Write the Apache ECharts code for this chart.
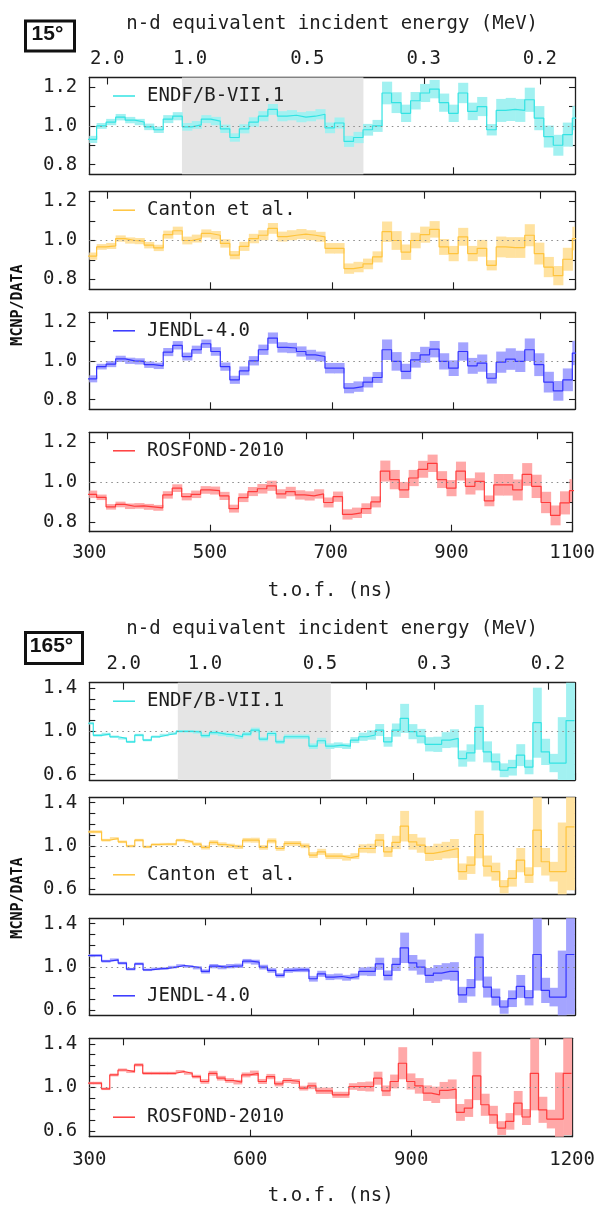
<!DOCTYPE html>
<html><head><meta charset="utf-8">
<script src="https://cdn.jsdelivr.net/npm/echarts@6/dist/echarts.min.js"></script>
<style>html,body{margin:0;padding:0;background:#fff;}#c{width:598px;height:1207px;}</style>
</head><body><div id="c"></div>
<script>
// ---------------- DATA ----------------
const seriesNames = ['ENDF/B-VII.1', 'Canton et al.', 'JENDL-4.0', 'ROSFOND-2010'];

// 15 deg: time-of-flight bins (ns)
const tof15Start = 296.4;
const tof15Bin = 15.67;
const endf15 = [0.93,1.00,1.02,1.045,1.03,1.02,0.995,0.98,1.035,1.05,0.995,1.005,1.035,1.025,0.985,0.94,0.985,1.02,1.05,1.085,1.05,1.055,1.045,1.05,1.06,0.99,1.015,0.92,0.94,0.98,1.00,1.17,1.12,1.065,1.13,1.17,1.19,1.12,1.065,1.17,1.075,1.10,0.98,1.08,1.085,1.08,1.135,1.04,0.945,0.90,0.955,1.04];
const canton15 = [0.92,0.967,0.972,1.01,1.0,0.997,0.976,0.962,1.03,1.05,1.0,1.01,1.036,1.027,0.985,0.925,0.97,1.01,1.027,1.062,1.02,1.027,1.033,1.027,1.019,0.96,0.96,0.856,0.864,0.88,0.916,1.045,1.0,0.94,1.0,1.03,1.057,0.967,0.933,1.019,0.933,0.96,0.873,0.967,0.964,0.964,1.027,0.933,0.864,0.82,0.904,1.01];
const jendl15 = [0.907,0.97,0.983,1.01,1.0,0.997,0.98,0.974,1.045,1.08,1.022,1.057,1.088,1.048,0.97,0.902,0.948,1.0,1.057,1.117,1.069,1.066,1.048,1.031,1.022,0.962,0.962,0.859,0.867,0.89,0.914,1.057,0.997,0.945,1.005,1.031,1.06,0.997,0.962,1.048,0.974,0.988,0.91,0.993,1.009,0.997,1.057,0.98,0.89,0.845,0.902,1.04];
const rosfond15 = [0.938,0.923,0.875,0.887,0.878,0.88,0.875,0.87,0.935,0.969,0.926,0.938,0.96,0.957,0.93,0.866,0.921,0.952,0.966,0.981,0.94,0.952,0.935,0.93,0.94,0.897,0.926,0.837,0.845,0.866,0.9,1.055,1.012,0.96,1.02,1.064,1.094,1.012,0.969,1.055,0.978,1.003,0.905,0.986,0.986,0.96,1.038,0.978,0.897,0.832,0.895,0.957];
// relative half-width of the uncertainty band
const err15 = [0.02,0.015,0.016,0.016,0.016,0.016,0.017,0.017,0.02,0.02,0.02,0.02,0.02,0.021,0.022,0.023,0.024,0.024,0.025,0.026,0.025,0.025,0.025,0.025,0.025,0.028,0.028,0.031,0.031,0.031,0.031,0.05,0.048,0.042,0.04,0.04,0.04,0.042,0.042,0.045,0.042,0.045,0.03,0.055,0.055,0.055,0.055,0.06,0.06,0.06,0.065,0.06];

// 165 deg
const tof165Start = 292.0;
const tof165Bin = 15.37;
const endf165 = [1.075,0.963,0.975,0.95,0.935,0.903,0.966,0.919,0.95,0.966,0.98,1.0,1.0,0.994,0.96,0.988,0.975,0.966,0.95,0.975,1.012,0.928,0.98,0.903,0.95,0.95,0.95,0.863,0.913,0.863,0.872,0.863,0.919,0.95,0.966,1.012,0.903,1.012,1.12,0.997,0.956,0.88,0.88,0.919,0.935,0.748,0.8,1.037,0.81,0.717,0.64,0.664,0.78,0.67,1.08,0.81,0.707,0.707,1.1];
const canton165 = [1.13,1.13,1.052,1.068,1.037,0.997,1.052,0.99,1.012,1.015,1.015,1.052,1.037,1.015,0.985,1.031,1.012,1.0,0.99,1.052,1.052,0.985,1.046,0.975,1.022,1.022,1.0,0.914,0.944,0.904,0.904,0.889,0.904,0.975,0.975,1.052,0.944,1.031,1.182,1.037,1.006,0.929,0.944,0.96,0.975,0.76,0.821,1.105,0.812,0.76,0.62,0.698,0.867,0.728,1.145,0.852,0.76,0.76,1.176];
const jendl165 = [1.105,1.105,1.052,1.065,1.034,0.978,1.028,0.972,0.981,0.985,0.997,1.012,1.003,0.991,0.957,1.006,0.997,1.006,1.009,1.052,1.043,0.997,0.966,0.92,0.966,0.972,0.972,0.889,0.935,0.904,0.91,0.898,0.91,0.957,0.957,1.028,0.92,1.022,1.176,1.037,0.997,0.92,0.941,0.957,0.957,0.74,0.806,1.09,0.812,0.719,0.627,0.704,0.818,0.713,1.114,0.781,0.719,0.719,1.114];
const rosfond165 = [1.04,1.04,0.988,1.115,1.16,1.146,1.207,1.13,1.13,1.13,1.13,1.146,1.13,1.1,1.055,1.13,1.085,1.064,1.049,1.115,1.13,1.055,1.1,1.033,1.064,1.055,0.994,1.015,0.97,0.97,0.933,0.933,1.009,1.009,1.009,1.085,0.97,1.055,1.222,1.055,1.015,0.948,0.933,0.973,0.985,0.772,0.812,1.106,0.842,0.75,0.629,0.69,0.857,0.73,1.13,0.796,0.711,0.711,1.13];
const err165 = [0.012,0.012,0.012,0.012,0.012,0.012,0.012,0.012,0.012,0.012,0.012,0.012,0.012,0.015,0.02,0.02,0.02,0.02,0.02,0.02,0.022,0.022,0.022,0.022,0.022,0.022,0.022,0.03,0.03,0.03,0.03,0.03,0.03,0.04,0.045,0.055,0.05,0.06,0.12,0.07,0.07,0.075,0.08,0.08,0.09,0.1,0.1,0.2,0.12,0.11,0.1,0.11,0.13,0.1,0.3,0.15,0.12,0.6,0.5];

// axes
const tofTicks15 = [300, 500, 700, 900, 1100];
const tofTicks165 = [300, 600, 900, 1200];
const energyTicks = [2.0, 1.0, 0.5, 0.4, 0.3, 0.2];
const energyLabels = [2.0, 1.0, 0.5, 0.3, 0.2];
const K15 = 217200;   // tof^2 * E  (ns^2 MeV) for 15 deg
const K165 = 264500;  // for 165 deg
const yTicks15 = [0.8, 0.9, 1.0, 1.1, 1.2];
const yLabels15 = [0.8, 1.0, 1.2];
const yTicks165 = [0.6, 0.7, 0.8, 0.9, 1.0, 1.1, 1.2, 1.3, 1.4];
const yLabels165 = [0.6, 1.0, 1.4];
const shade15 = [452.6, 751.5];
const shade165 = [464.0, 747.6];

// ---------------- STYLE / LAYOUT ----------------
const FONT = "'DejaVu Sans Mono', monospace";
const INK = '#1e1e1e';
const palette = [
  {line: '#33e3e3', band: '#a2f1f1'},
  {line: '#ffc43d', band: '#ffe2a0'},
  {line: '#3434ff', band: '#a4a4ff'},
  {line: '#ff3c3c', band: '#ffa8a8'}
];
const groups = [
  {data: [endf15, canton15, jendl15, rosfond15], err: err15, start: tof15Start, bin: tof15Bin,
   xMin: 300, xMax: 1100, tofTicks: tofTicks15, K: K15, yMin: 0.75, yMax: 1.25,
   yTicks: yTicks15, yLabels: yLabels15, shade: shade15,
   tops: [77.5, 191.7, 312.3, 432.3], heights: [96.8, 97.6, 97, 99.4],
   legendPos: ['top', 'top', 'top', 'top'], labMargin: 12, nameGap: 50},
  {data: [endf165, canton165, jendl165, rosfond165], err: err165, start: tof165Start, bin: tof165Bin,
   xMin: 300, xMax: 1200, tofTicks: tofTicks165, K: K165, yMin: 0.55, yMax: 1.45,
   yTicks: yTicks165, yLabels: yLabels165, shade: shade165,
   tops: [682.7, 797.3, 918.3, 1038.3], heights: [97.3, 97, 97, 98.4],
   legendPos: ['top', 'bottom', 'bottom', 'bottom'], labMargin: 14, nameGap: 50}
];
const GL = 89.3, GW = 485.7;

const grid = [], xAxis = [], yAxis = [], series = [], legend = [];
let gi = 0;
groups.forEach(function (g, gIdx) {
  const eTickVals = energyTicks.map(function (e) { return Math.sqrt(g.K / e); });
  const eLabVals = energyLabels.map(function (e) { return Math.sqrt(g.K / e); });
  for (let p = 0; p < 4; p++) {
    const top = g.tops[p], h = g.heights[p];
    grid.push({left: GL, width: GW, top: top, height: h, show: false});
    const first = p === 0, last = p === 3;
    const axisLine = {show: true, onZero: false, lineStyle: {color: INK, width: 1.3}};
    const tickStyle = {color: INK, width: 1.1};
    // bottom tof axis
    xAxis.push({
      type: 'value', gridIndex: gi, position: 'bottom', min: g.xMin, max: g.xMax,
      axisLine: axisLine, splitLine: {show: false},
      axisTick: {show: true, inside: true, length: 7, customValues: g.tofTicks, lineStyle: tickStyle},
      axisLabel: {show: last, customValues: g.tofTicks, margin: g.labMargin, fontFamily: FONT, fontSize: 19, color: INK,
                  formatter: function (v) { return String(Math.round(v)); }},
      name: last ? 't.o.f. (ns)' : '', nameLocation: 'middle', nameGap: g.nameGap,
      nameTextStyle: {fontFamily: FONT, fontSize: 19, color: INK}
    });
    // top energy axis
    xAxis.push({
      type: 'value', gridIndex: gi, position: 'top', min: g.xMin, max: g.xMax,
      axisLine: axisLine, splitLine: {show: false},
      axisTick: {show: true, inside: true, length: 7, customValues: eTickVals, lineStyle: tickStyle},
      axisLabel: {show: first, customValues: eLabVals, margin: 9, fontFamily: FONT, fontSize: 19, color: INK,
                  formatter: function (v) { return (g.K / (v * v)).toFixed(1); }},
      name: first ? 'n-d equivalent incident energy (MeV)' : '', nameLocation: 'middle', nameGap: 44,
      nameTextStyle: {fontFamily: FONT, fontSize: 19, color: INK}
    });
    yAxis.push({
      type: 'value', gridIndex: gi, position: 'left', min: g.yMin, max: g.yMax,
      axisLine: axisLine, splitLine: {show: false},
      axisTick: {show: true, inside: true, length: 6, customValues: g.yTicks, lineStyle: tickStyle},
      axisLabel: {show: true, customValues: g.yLabels, margin: 12, fontFamily: FONT, fontSize: 19, color: INK,
                  formatter: function (v) { return v.toFixed(1); }}
    });
    yAxis.push({
      type: 'value', gridIndex: gi, position: 'right', min: g.yMin, max: g.yMax,
      axisLine: axisLine, splitLine: {show: false},
      axisTick: {show: true, inside: true, length: 6, customValues: g.yTicks, lineStyle: tickStyle},
      axisLabel: {show: false}
    });

    const vals = g.data[p];
    const col = palette[p];
    const bandData = [], lineData = [];
    for (let i = 0; i < vals.length; i++) {
      const t0 = g.start + i * g.bin, t1 = t0 + g.bin;
      const d = vals[i] * g.err[i];
      bandData.push([t0, t1, vals[i] - d, vals[i] + d]);
      lineData.push([t0, vals[i]]);
    }
    lineData.push([g.start + vals.length * g.bin, vals[vals.length - 1]]);

    series.push({
      type: 'custom', xAxisIndex: 2 * gi, yAxisIndex: 2 * gi, z: 2, silent: true,
      encode: {x: [0, 1], y: [2, 3]},
      data: bandData,
      renderItem: (function (fill) {
        return function (params, api) {
          const a = api.coord([api.value(0), api.value(3)]);
          const b = api.coord([api.value(1), api.value(2)]);
          const cs = params.coordSys;
          const shape = echarts.graphic.clipRectByRect(
            {x: a[0], y: a[1], width: b[0] - a[0] + 0.6, height: b[1] - a[1]},
            {x: cs.x, y: cs.y, width: cs.width, height: cs.height});
          return shape && {type: 'rect', shape: shape, style: {fill: fill}};
        };
      })(col.band)
    });
    const lineSeries = {
      type: 'line', name: seriesNames[p], xAxisIndex: 2 * gi, yAxisIndex: 2 * gi, z: 3,
      step: 'end', showSymbol: false, silent: true, clip: true, color: col.line,
      lineStyle: {color: col.line, width: 1.2},
      data: lineData,
      markLine: {silent: true, symbol: 'none', label: {show: false},
                 lineStyle: {color: '#8a8a8a', type: [1.5, 4], width: 1.2},
                 data: [{yAxis: 1.0}]}
    };
    if (first) {
      lineSeries.markArea = {silent: true, itemStyle: {color: '#e5e5e5'},
                             data: [[{xAxis: g.shade[0]}, {xAxis: g.shade[1]}]]};
    }
    series.push(lineSeries);

    const legTop = g.legendPos[p] === 'top' ? top + 9 : top + h - 29;
    legend.push({
      data: [seriesNames[p]], left: 113, top: legTop, padding: 0, orient: 'horizontal',
      icon: 'rect', itemWidth: 22, itemHeight: 1.5, selectedMode: false,
      textStyle: {fontFamily: FONT, fontSize: 19, color: INK, padding: [0, 0, 0, 7]}
    });
    gi++;
  }
});

const graphic = [
  {type: 'rect', left: 23, top: 18.5, shape: {width: 49, height: 30}, style: {fill: 'none', stroke: '#111', lineWidth: 3}},
  {type: 'text', x: 47.5, y: 34, style: {text: '15°', font: "bold 21px 'Liberation Sans', sans-serif", fill: '#111', align: 'center', verticalAlign: 'middle'}},
  {type: 'rect', left: 23, top: 630, shape: {width: 57, height: 31}, style: {fill: 'none', stroke: '#111', lineWidth: 3}},
  {type: 'text', x: 51.5, y: 646, style: {text: '165°', font: "bold 21px 'Liberation Sans', sans-serif", fill: '#111', align: 'center', verticalAlign: 'middle'}},
  {type: 'text', x: 18, y: 305, rotation: Math.PI / 2, style: {text: 'MCNP/DATA', font: "bold 15px 'DejaVu Sans Mono', monospace", fill: '#111', align: 'center', verticalAlign: 'middle'}},
  {type: 'text', x: 18, y: 898, rotation: Math.PI / 2, style: {text: 'MCNP/DATA', font: "bold 15px 'DejaVu Sans Mono', monospace", fill: '#111', align: 'center', verticalAlign: 'middle'}}
];

const chart = echarts.init(document.getElementById('c'), null, {renderer: 'canvas', width: 598, height: 1207});
chart.setOption({
  animation: false,
  backgroundColor: '#fff',
  grid: grid, xAxis: xAxis, yAxis: yAxis, series: series, legend: legend, graphic: graphic
});
</script>
</body></html>
